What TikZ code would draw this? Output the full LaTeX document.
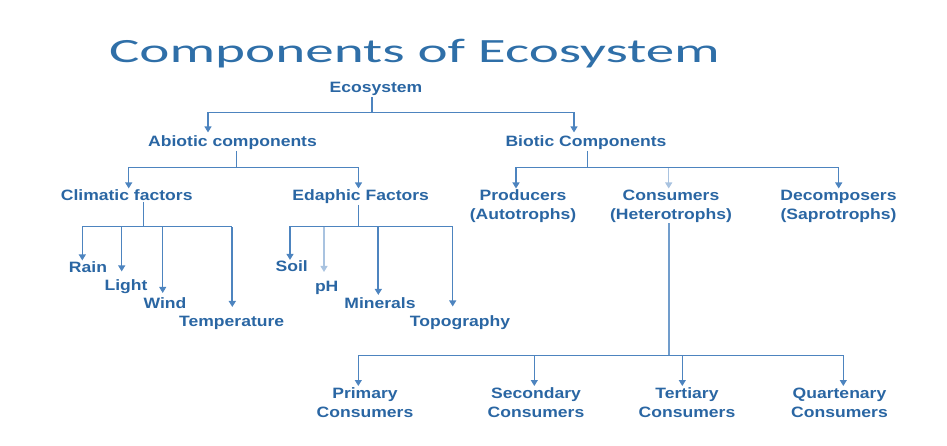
\documentclass[tikz,border=0pt]{standalone}
\usepackage{fontspec}
\usetikzlibrary{arrows.meta}
\newfontfamily\titlefont[FakeStretch=1.68]{Carlito}
\newfontfamily\lblfont[FakeStretch=1.17]{Liberation Sans}
\definecolor{txtblue}{HTML}{2A66A3}
\definecolor{lnblue}{HTML}{4D84BF}
\definecolor{ttlblue}{HTML}{2F6FA8}
\definecolor{faint}{HTML}{A9C3E0}
\tikzset{
  lbl/.style={text=txtblue, font=\lblfont\bfseries\fontsize{15}{19}\selectfont, inner sep=1pt, anchor=base},
  lbl2/.style={text=txtblue, font=\lblfont\bfseries\fontsize{15}{19}\selectfont, inner sep=1pt, anchor=north, align=center},
  ln/.style={draw=lnblue, line width=1.2pt},
  arr/.style={draw=lnblue, line width=1.2pt, -{Triangle[width=7pt,length=6pt]}},
  thk/.style={line width=1.8pt}
}
\begin{document}
\begin{tikzpicture}[x=1pt,y=-1pt]
\useasboundingbox (0,0) rectangle (947,446);
\node[text=ttlblue, font=\titlefont\fontsize{34}{40}\selectfont, anchor=base, inner sep=0] (title) at (414.5,62.7) {Components of Ecosystem};

% level 0/1
\node[lbl] (eco) at (376,93) {Ecosystem};
\node[lbl] (abio) at (232.5,146.5) {Abiotic components};
\node[lbl] (bio) at (586,146.5) {Biotic Components};

% level 2
\node[lbl] (clim) at (126.7,200.5) {Climatic factors};
\node[lbl] (edaph) at (360.7,200.5) {Edaphic Factors};
\node[lbl2] (prod) at (523,188.5) {Producers\\(Autotrophs)};
\node[lbl2] (cons) at (671,188.5) {Consumers\\(Heterotrophs)};
\node[lbl2] (decomp) at (838.5,188.5) {Decomposers\\(Saprotrophs)};

% level 3 climatic
\node[lbl] (rain) at (88,272.5) {Rain};
\node[lbl] (light) at (126,290.5) {Light};
\node[lbl] (wind) at (165,308) {Wind};
\node[lbl] (temp) at (231.7,326.5) {Temperature};
% level 3 edaphic
\node[lbl] (soil) at (291.7,272) {Soil};
\node[lbl] (ph) at (326.7,291.5) {pH};
\node[lbl] (min) at (380,308) {Minerals};
\node[lbl] (topo) at (460,326.5) {Topography};

% consumers
\node[lbl2] (prim) at (365,386) {Primary\\Consumers};
\node[lbl2] (sec) at (536,386) {Secondary\\Consumers};
\node[lbl2] (tert) at (687,386) {Tertiary\\Consumers};
\node[lbl2] (quart) at (839.5,386.8) {Quartenary\\Consumers};

% junctions
\coordinate (j0) at (372,112.3);
\coordinate (j1) at (236.7,167.3);
\coordinate (j2) at (587.3,167.3);
\coordinate (j3) at (143.3,226.7);
\coordinate (j4) at (358.3,226.7);
\coordinate (j5) at (669,355.7);

% Ecosystem
\draw[ln] ([xshift=-4pt]eco.south) -- (j0);
\draw[arr] (j0) -| ([xshift=-24.5pt,yshift=2pt]abio.north);
\draw[arr] (j0) -| ([xshift=-12pt,yshift=2pt]bio.north);

% Abiotic
\draw[ln] ([xshift=4.2pt]abio.south) -- (j1);
\draw[arr] (j1) -| ([xshift=2pt]clim.north);
\draw[arr] (j1) -| ([xshift=-2.2pt]edaph.north);

% Climatic
\draw[ln] ([xshift=16.6pt]clim.south) -- (j3);
\draw[arr] (j3) -| ([xshift=-5.7pt]rain.north);
\draw[ln] (j3) -- ([xshift=0.6pt]j3 -| temp.north);
\draw[arr] (j3 -| light.north) ++(-4.3pt,0) -- ([xshift=-4.3pt,yshift=7pt]light.north);
\draw[arr, line width=0.9pt] (j3 -| wind.north) ++(-2.3pt,0) -- ([xshift=-2.3pt,yshift=3pt]wind.north);
\draw[arr, thk] (j3 -| temp.north) ++(0.6pt,-0.6pt) -- ([xshift=0.6pt,yshift=8pt]temp.north);

% Edaphic
\draw[ln] (j4 |- edaph.south) -- (j4);
\draw[arr] (j4) -| ([xshift=-1.7pt]soil.north);
\draw[arr, draw=faint] (j4 -| ph.north) ++(-2.7pt,0) -- ([xshift=-2.7pt,yshift=8pt]ph.north);
\draw[arr, thk] (j4 -| min.north) ++(-1.7pt,0) -- ([xshift=-1.7pt,yshift=1pt]min.north);
\draw[arr] (j4) -| ([xshift=-7.3pt,yshift=8pt]topo.north);

% Biotic
\draw[ln] ([xshift=1.3pt]bio.south) -- (j2);
\draw[arr] (j2) -| ([xshift=-7pt]prod.north);
\draw[arr, draw=faint] (j2) -| ([xshift=-2.3pt]cons.north);
\draw[arr] (j2) -| ([xshift=0.2pt]decomp.north);

% Consumers
\draw[ln, draw=lnblue!80] ([xshift=-2pt]cons.south) -- (j5);
\draw[arr] (j5) -| ([xshift=-6.7pt]prim.north);
\draw[arr] (j5 -| sec.north) ++(-1.7pt,0) -- ([xshift=-1.7pt]sec.north);
\draw[arr] (j5 -| tert.north) ++(-4.7pt,0) -- ([xshift=-4.7pt]tert.north);
\draw[arr] (j5) -| ([xshift=3.8pt,yshift=0.8pt]quart.north);
\end{tikzpicture}
\end{document}
